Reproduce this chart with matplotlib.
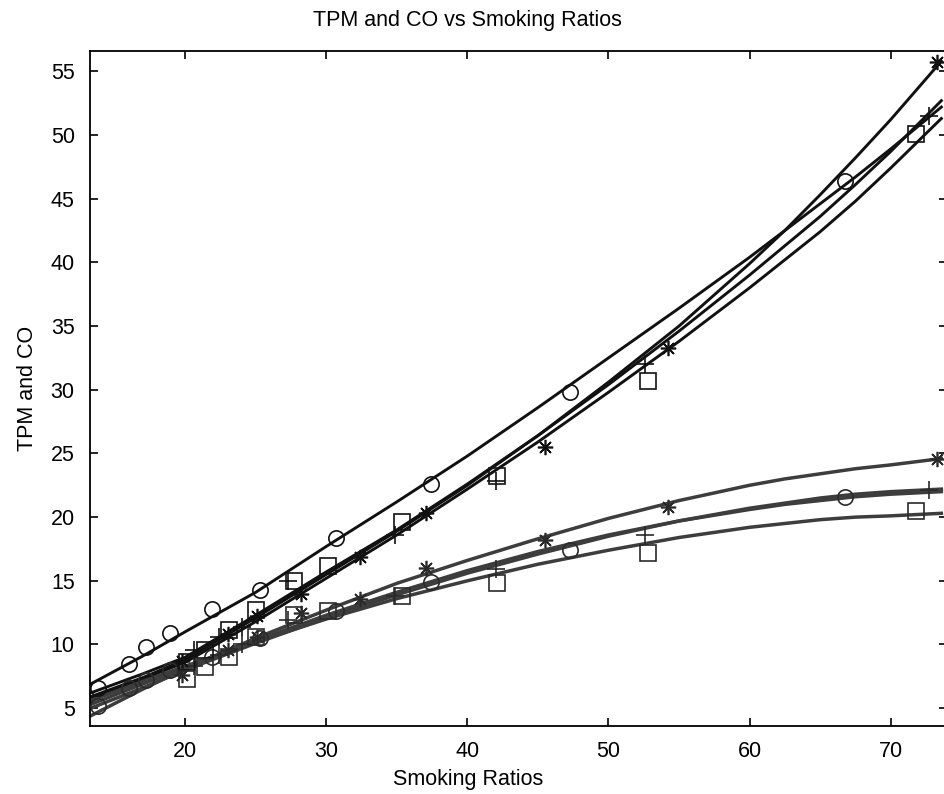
import matplotlib
matplotlib.use("Agg")
import matplotlib.pyplot as plt

plt.rcParams["font.family"] = ["Liberation Sans", "DejaVu Sans"]

# smoking ratio at which each brand was measured (shared by TPM and CO)
X_CIRCLE = [13.8, 16.0, 17.2, 18.9, 21.9, 25.3, 30.7, 37.4, 47.3, 66.8]
X_PLUS = [20.6, 22.4, 24.0, 27.3, 34.9, 42.0, 52.6, 72.7]
X_STAR = [19.8, 23.0, 25.1, 28.2, 32.4, 37.1, 45.5, 54.2, 73.3]
X_SQUARE = [20.1, 21.4, 23.1, 25.0, 27.7, 30.1, 35.4, 42.1, 52.8, 71.8]

# measured TPM
TPM_CIRCLE = [6.6, 8.5, 9.8, 10.9, 12.8, 14.3, 18.4, 22.6, 29.8, 46.4]
TPM_PLUS = [9.6, 10.6, 11.4, 15.0, 18.6, 22.8, 32.0, 51.5]
TPM_STAR = [8.7, 10.8, 12.2, 14.0, 16.9, 20.3, 25.5, 33.3, 55.7]
TPM_SQUARE = [8.6, 9.6, 11.1, 12.7, 15.0, 16.2, 19.6, 23.2, 30.7, 50.1]

# measured CO
CO_CIRCLE = [5.2, 6.6, 7.2, 8.0, 9.0, 10.5, 12.6, 14.9, 17.4, 21.6]
CO_PLUS = [8.3, 9.2, 10.0, 11.9, 13.8, 15.9, 18.6, 22.1]
CO_STAR = [7.6, 9.6, 10.6, 12.5, 13.6, 16.0, 18.2, 20.8, 24.6]
CO_SQUARE = [7.3, 8.2, 9.0, 10.6, 12.3, 12.6, 13.8, 14.8, 17.2, 20.5]

X_FIT = [13.3, 17, 20, 25, 30, 35, 40, 45, 50, 55, 60, 62.5, 65, 67.5, 70, 73.6]
TPM_FIT_CIRCLE = [6.9, 9.1, 11.0, 14.1, 17.7, 21.2, 24.8, 28.6, 32.5, 36.4, 40.4,
                  42.5, 44.6, 46.7, 48.9, 52.2]
TPM_FIT_PLUS = [6.2, 7.7, 9.0, 12.3, 15.7, 19.0, 22.6, 26.4, 30.4, 34.6, 39.0,
                41.3, 43.6, 46.1, 48.7, 52.7]
TPM_FIT_STAR = [5.9, 7.4, 8.8, 12.1, 15.5, 18.9, 22.5, 26.4, 30.6, 35.0, 39.9,
                42.5, 45.3, 48.2, 51.2, 55.8]
TPM_FIT_SQUARE = [5.8, 7.3, 8.6, 11.8, 15.2, 18.6, 22.2, 25.9, 29.8, 33.8, 38.0,
                  40.2, 42.4, 44.8, 47.4, 51.3]
CO_FIT_CIRCLE = [5.3, 6.9, 8.2, 10.3, 12.3, 14.1, 15.8, 17.3, 18.6, 19.7, 20.6,
                 21.0, 21.3, 21.6, 21.8, 22.0]
CO_FIT_PLUS = [5.0, 6.6, 8.0, 10.1, 12.1, 13.9, 15.6, 17.1, 18.5, 19.7, 20.7,
               21.1, 21.5, 21.8, 22.0, 22.2]
CO_FIT_STAR = [4.4, 6.5, 8.1, 10.5, 12.7, 14.8, 16.6, 18.3, 19.9, 21.3, 22.5,
               23.0, 23.4, 23.8, 24.1, 24.6]
CO_FIT_SQUARE = [5.6, 7.1, 8.3, 10.2, 12.0, 13.6, 15.0, 16.3, 17.4, 18.4, 19.2,
                 19.5, 19.8, 20.0, 20.1, 20.3]

BLACK = "#111111"
GRAY = "#3d3d3d"
STAR = (8, 2, 0)

fig = plt.figure(figsize=(9.44, 7.94), dpi=100)
ax = fig.add_axes([90 / 944, 1 - 726 / 794, 857 / 944, 675 / 794])

for ys in (TPM_FIT_CIRCLE, TPM_FIT_PLUS, TPM_FIT_STAR, TPM_FIT_SQUARE):
    ax.plot(X_FIT, ys, color=BLACK, lw=2.1, zorder=2)
for ys in (CO_FIT_CIRCLE, CO_FIT_PLUS, CO_FIT_STAR, CO_FIT_SQUARE):
    ax.plot(X_FIT, ys, color=GRAY, lw=2.5, zorder=2)

series = [
    (X_CIRCLE, TPM_CIRCLE, CO_CIRCLE, "o", 11),
    (X_PLUS, TPM_PLUS, CO_PLUS, "+", 13),
    (X_STAR, TPM_STAR, CO_STAR, STAR, 11),
    (X_SQUARE, TPM_SQUARE, CO_SQUARE, "s", 11),
]
for xs, tpm, co, mk, ms in series:
    ax.plot(xs, tpm, ls="none", marker=mk, ms=ms, mfc="none", mec=BLACK,
            mew=1.2, zorder=3)
    ax.plot(xs, co, ls="none", marker=mk, ms=ms, mfc="none", mec="#2a2a2a",
            mew=1.2, zorder=3)

ax.set_xlim(13.25, 74.0)
ax.set_ylim(3.6, 56.6)
ax.set_xticks([20, 30, 40, 50, 60, 70])
ax.set_yticks([5, 10, 15, 20, 25, 30, 35, 40, 45, 50, 55])
ax.tick_params(direction="in", length=6, width=1.2, top=True, right=True,
               labelsize=15.5, colors="black", pad=11)
for sp in ax.spines.values():
    sp.set_linewidth(1.3)

ax.set_title("TPM and CO vs Smoking Ratios", fontsize=15.5, pad=18, x=0.441)
ax.set_xlabel("Smoking Ratios", fontsize=15.5, labelpad=5)
ax.xaxis.label.set_x(0.441)
ax.set_ylabel("TPM and CO", fontsize=15.5, labelpad=9)

fig.savefig("out.png", dpi=100)
